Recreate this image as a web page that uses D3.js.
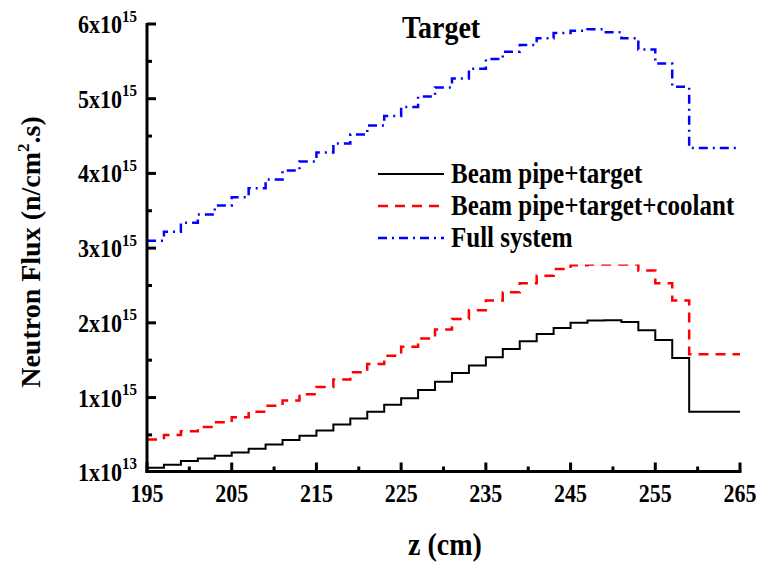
<!DOCTYPE html>
<html>
<head>
<meta charset="utf-8">
<script src="https://cdn.jsdelivr.net/npm/d3@7"></script>
<style>
  body { margin: 0; background: #fff; }
  svg { display: block; }
  text { font-family: "Liberation Serif", "Times New Roman", serif; font-weight: bold; fill: #000; }
</style>
</head>
<body>
<svg></svg>
<script>
const size = {w: 760, h: 565};
const svg = d3.select('svg').attr('width', size.w).attr('height', size.h);

// bin start positions (cm); the last bin runs to 265
const binStart = [195, 197, 199, 201, 203, 205, 207, 209, 211, 213, 215, 217, 219, 221, 223, 225,
                  227, 229, 231, 233, 235, 237, 239, 241, 243, 245, 247, 249, 251, 253, 255, 257, 259];
const zEnd = 265;

// flux values in units of 1e15 n/cm2.s
const pipeTarget = [0.06, 0.10, 0.15, 0.185, 0.22, 0.265, 0.315, 0.37, 0.43, 0.49, 0.56, 0.64, 0.72, 0.81, 0.905, 0.99,
                    1.10, 1.21, 1.33, 1.43, 1.54, 1.65, 1.755, 1.85, 1.93, 2.00, 2.03, 2.035, 2.01, 1.90, 1.77, 1.53, 0.81];
const pipeTargetCoolant = [0.44, 0.50, 0.55, 0.605, 0.67, 0.735, 0.81, 0.89, 0.96, 1.045, 1.14, 1.24, 1.34, 1.45, 1.56, 1.68,
                           1.79, 1.91, 2.05, 2.17, 2.30, 2.41, 2.53, 2.63, 2.72, 2.77, 2.78, 2.78, 2.78, 2.70, 2.53, 2.30, 1.58];
const fullSystem = [3.10, 3.22, 3.34, 3.45, 3.57, 3.68, 3.80, 3.92, 4.04, 4.16, 4.28, 4.40, 4.52, 4.64, 4.77, 4.89,
                    5.03, 5.15, 5.27, 5.40, 5.53, 5.63, 5.72, 5.81, 5.88, 5.91, 5.93, 5.89, 5.81, 5.66, 5.47, 5.16, 4.34];

const seriesNames = ['Beam pipe+target', 'Beam pipe+target+coolant', 'Full system'];

// axis ticks
const xMajor = [195, 205, 215, 225, 235, 245, 255, 265];
const xMinor = [200, 210, 220, 230, 240, 250, 260];
const yMajor = [0.01, 1, 2, 3, 4, 5, 6];
const yMajorMant = ['1', '1', '2', '3', '4', '5', '6'];
const yMajorExp = ['13', '15', '15', '15', '15', '15', '15'];
const yMinor = [0.5, 1.5, 2.5, 3.5, 4.5, 5.5];

const plot = {l: 147, r: 740, t: 24, b: 471.5};
const stretch = 1.15;   // text in the original is drawn a little tall

const x = d3.scaleLinear().domain([195, 265]).range([plot.l, plot.r]);
const y = d3.scaleLinear().domain([0.01, 6]).range([plot.b, plot.t]);

const styles = [
  {color: '#000', width: 2, dash: null},
  {color: '#ff0000', width: 2.5, dash: '10,7'},
  {color: '#0000ff', width: 2.5, dash: '9,5,2,5'}
];

// ---- step curves ----
const line = d3.line()
  .x(d => x(d[0]))
  .y(d => y(d[1]))
  .curve(d3.curveStepAfter);

[pipeTarget, pipeTargetCoolant, fullSystem].forEach((vals, i) => {
  let pts = binStart.map((z, k) => [z, vals[k]]);
  pts.push([zEnd, vals[vals.length - 1]]);
  svg.append('path')
    .attr('d', line(pts))
    .attr('fill', 'none')
    .attr('stroke', styles[i].color)
    .attr('stroke-width', styles[i].width)
    .attr('stroke-dasharray', styles[i].dash);
});

// ---- legend (white box behind it) ----
const legendG = svg.append('g');
legendG.append('rect')
  .attr('x', 372).attr('y', 156).attr('width', 380).attr('height', 108.5)
  .attr('fill', '#fff');
const legendY = [174, 206, 238];
seriesNames.forEach((name, i) => {
  legendG.append('line')
    .attr('x1', 378).attr('x2', 444)
    .attr('y1', legendY[i]).attr('y2', legendY[i])
    .attr('stroke', styles[i].color)
    .attr('stroke-width', styles[i].width)
    .attr('stroke-dasharray', styles[i].dash);
  legendG.append('text')
    .attr('transform', `translate(451,${legendY[i] + 9}) scale(1,${stretch})`)
    .style('font-size', '25px')
    .text(name);
});

// ---- axes ----
const axisG = svg.append('g');
axisG.append('line')
  .attr('x1', plot.l).attr('x2', plot.l).attr('y1', plot.t - 1).attr('y2', plot.b + 1.5)
  .attr('stroke', '#000').attr('stroke-width', 3);
axisG.append('line')
  .attr('x1', plot.l - 1.5).attr('x2', plot.r + 1.5).attr('y1', plot.b).attr('y2', plot.b)
  .attr('stroke', '#000').attr('stroke-width', 3);

axisG.selectAll('line.ymaj').data(yMajor).join('line').classed('ymaj', true)
  .attr('x1', plot.l).attr('x2', plot.l + 9)
  .attr('y1', d => y(d)).attr('y2', d => y(d))
  .attr('stroke', '#000').attr('stroke-width', 3);
axisG.selectAll('line.ymin').data(yMinor).join('line').classed('ymin', true)
  .attr('x1', plot.l).attr('x2', plot.l + 5)
  .attr('y1', d => y(d)).attr('y2', d => y(d))
  .attr('stroke', '#000').attr('stroke-width', 3);
axisG.selectAll('line.xmaj').data(xMajor).join('line').classed('xmaj', true)
  .attr('x1', d => x(d)).attr('x2', d => x(d))
  .attr('y1', plot.b).attr('y2', plot.b - 9)
  .attr('stroke', '#000').attr('stroke-width', 3);
axisG.selectAll('line.xmin').data(xMinor).join('line').classed('xmin', true)
  .attr('x1', d => x(d)).attr('x2', d => x(d))
  .attr('y1', plot.b).attr('y2', plot.b - 5)
  .attr('stroke', '#000').attr('stroke-width', 3);

// x tick labels
axisG.selectAll('text.xlab').data(xMajor).join('text').classed('xlab', true)
  .attr('transform', d => `translate(${x(d)},501.5) scale(1,${stretch})`)
  .attr('text-anchor', 'middle')
  .style('font-size', '22px')
  .text(d => d);

// y tick labels with superscript exponent
yMajor.forEach((v, i) => {
  let t = axisG.append('text')
    .attr('transform', `translate(137,${y(v) + 9}) scale(1,${stretch})`)
    .attr('text-anchor', 'end')
    .style('font-size', '22px');
  t.append('tspan').text(yMajorMant[i] + 'x10');
  t.append('tspan').attr('dy', -10).style('font-size', '15px').text(yMajorExp[i]);
});

// ---- titles ----
svg.append('text')
  .attr('transform', `translate(441,38) scale(1,${stretch})`)
  .attr('text-anchor', 'middle')
  .style('font-size', '28px')
  .text('Target');

svg.append('text')
  .attr('transform', `translate(445,555) scale(1,${stretch})`)
  .attr('text-anchor', 'middle')
  .style('font-size', '28px')
  .text('z (cm)');

const yTitle = svg.append('text')
  .attr('transform', 'translate(40,252) rotate(-90)')
  .attr('text-anchor', 'middle')
  .style('font-size', '28px');
yTitle.append('tspan').text('Neutron Flux (n/cm');
yTitle.append('tspan').attr('dy', -11).style('font-size', '17px').text('2');
yTitle.append('tspan').attr('dy', 11).text('.s)');
</script>
</body>
</html>
